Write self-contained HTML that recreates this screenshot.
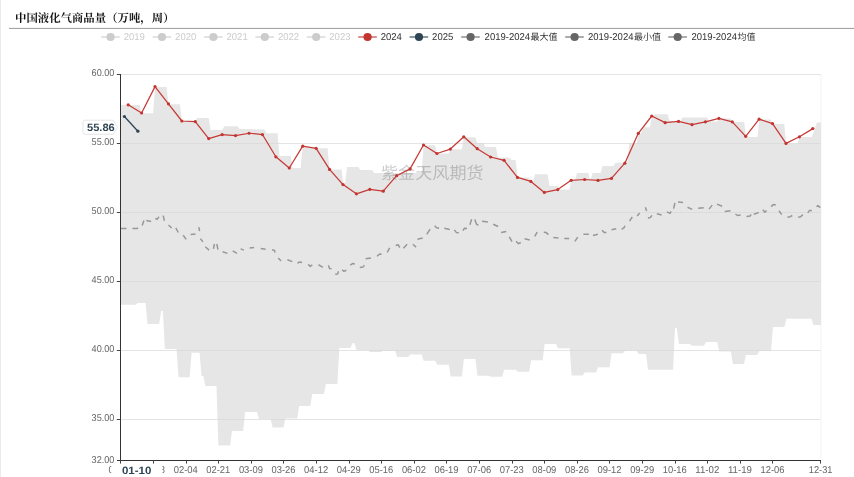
<!DOCTYPE html>
<html><head><meta charset="utf-8"><title>chart</title>
<style>html,body{margin:0;padding:0;background:#fff}svg{display:block;will-change:transform}text{font-family:"Liberation Sans",sans-serif;text-rendering:geometricPrecision}</style></head>
<body>
<svg width="854" height="477" viewBox="0 0 854 477">
<rect width="854" height="477" fill="#fff"/>
<rect x="0" y="0" width="1" height="477" fill="#ebebeb"/>
<text x="15" y="21.5" font-size="11.5" font-weight="bold" fill="#111" style="font-family:'Liberation Serif','Noto Serif CJK SC',serif" textLength="159.5" lengthAdjust="spacingAndGlyphs">中国液化气商品量（万吨，周）</text>
<rect x="9" y="27.9" width="845" height="1" fill="#9c9c9c"/>
<line x1="120.5" x2="821" y1="74.5" y2="74.5" stroke="#e4e4e4" stroke-width="1"/>
<line x1="120.5" x2="821" y1="143.5" y2="143.5" stroke="#e4e4e4" stroke-width="1"/>
<line x1="120.5" x2="821" y1="212.5" y2="212.5" stroke="#e4e4e4" stroke-width="1"/>
<line x1="120.5" x2="821" y1="281.5" y2="281.5" stroke="#e4e4e4" stroke-width="1"/>
<line x1="120.5" x2="821" y1="350.5" y2="350.5" stroke="#e4e4e4" stroke-width="1"/>
<line x1="120.5" x2="821" y1="419.5" y2="419.5" stroke="#e4e4e4" stroke-width="1"/>
<line x1="820.9" x2="820.9" y1="74" y2="460" stroke="#f3f3f3" stroke-width="1"/>
<polygon points="120.5,105 139.68,105 141.6,113.2 153.13,113.2 155.05,86.95 166.58,86.95 168.5,104.2 179.98,104.2 181.9,121 195.28,121 197.2,118 208.68,118 210.6,130 222.28,130 224.2,126.2 237.68,126.2 239.6,128.9 264.5,129.5 264.48,129.5 266.4,133.2 277.58,133.2 279.5,156.1 290.68,156.1 292.6,168.1 300.68,168.1 302.6,146.6 316.1,148.3 327.58,148.3 329.5,169.5 341.48,169.5 343.4,183.5 345.13,183.5 347.05,167.1 358.28,167.1 360.2,170 372.18,170 374.1,173.1 421.68,173.1 423.6,145.3 435.08,145.3 437,153.5 448.58,153.5 450.5,149.2 461.88,149.2 463.8,137.15 475.38,137.15 477.3,143.1 483.38,143.1 485.3,146.9 495.98,146.9 497.9,157.45 509.48,157.45 511.4,160 515.68,160 517.6,177.6 529.08,177.6 531,181.5 533.08,181.5 535,174.3 547.58,174.3 549.5,186.1 557.98,186.1 559.9,189.6 569.38,189.6 571.3,180.5 575.13,180.5 577.05,173.1 588.3,173.1 589.9,179.3 590.68,179.3 592.6,173.1 600.58,173.1 602.5,166.1 613.58,166.1 615.5,162.7 627.38,162.7 629.3,143 636.58,143 638.5,133.5 641.08,133.5 643,127.3 649.98,127.3 651.9,116 652.88,116 654.8,114.2 667.58,114.2 669.5,121.1 680.48,121.1 682.4,117.6 707.08,117.6 709,121.5 717.23,121.5 719.15,118.6 730.58,118.6 732.5,121.9 744.18,121.9 746.1,136.9 757.48,136.9 759.4,119.4 770.83,119.4 772.75,123.9 784.23,123.9 786.15,143.4 797.63,143.4 799.55,137.1 811.8,137.1 817,122.45 820.9,122.45 820.9,324.9 813.4,324.9 811.48,318.85 786.4,318.85 784.48,327.05 772.95,327.05 771.03,351.1 759.3,351.1 757.38,354.9 745.9,354.9 743.98,363.9 732.8,363.9 730.88,351.4 719.3,351.4 717.38,342.05 705.9,342.05 703.98,345.7 691.8,345.7 689.88,344.1 678.85,344.1 676.75,327.9 675,327.9 673.08,369.7 648,369.7 646.08,354.1 638.5,354.1 636.58,350.8 624.9,350.8 622.98,353.3 611.5,353.3 609.58,367.2 598,367.2 596.08,372.6 584.7,372.6 582.78,375.5 571.6,375.5 569.68,348.2 557.9,348.2 555.98,344.1 544.6,344.1 542.68,360.2 531.1,360.2 529.18,371.8 517.7,371.8 515.78,369.7 504.1,369.7 502.18,376.7 490.7,376.7 488.78,375.7 477.4,375.7 475.48,359 463.9,359 461.98,376.6 450.7,376.6 448.78,364.75 437.2,364.75 435.28,360.8 423.6,360.8 421.68,354.6 410.2,354.6 408.28,357.05 397.05,357.05 395.13,350.8 383.1,350.8 381.18,352.1 370,352.1 368.08,350 356.4,350 354.48,343.1 352.8,343.1 350.3,348 339.3,348 337.38,384.1 325.9,384.1 323.98,393.9 312.2,393.9 310.28,406.1 299.1,406.1 297.18,418.4 285.4,418.4 283.48,427.4 272.6,427.4 270.68,418.9 258.9,418.9 256.98,412.1 245.1,412.1 243.18,431.1 232,431.1 230.08,445.6 218.4,445.6 216.48,386.1 205.3,386.1 203.38,376 201.5,376 199.58,352.8 191.6,352.8 189.68,377.25 178.5,377.25 176.58,349 164.85,349 162.93,311 161.1,311 159.18,324.1 147.5,324.1 145.58,303.1 137.6,303.1 135.68,304.75 120.5,304.75" fill="#d6d6d6" fill-opacity="0.62"/>
<text x="381" y="178.5" font-size="17" fill="#000" fill-opacity="0.2" style="font-family:'Liberation Sans','Noto Sans CJK SC',sans-serif" textLength="102.6" lengthAdjust="spacingAndGlyphs">紫金天风期货</text>
<path d="M121 228.4L126.5 228.4M132.4 228.4L137.3 228.4L138 227.8M142.2 225.5L143.9 220.6M146.3 220.6L151.2 221.4M155.3 218.4L157 219.4L159 216.8M163.2 215.65L164.4 220.9M168.5 225L171.7 227.95M175.8 227.95L178.3 232.5M183.2 235.3L186.2 239.4M190.6 234.5L195.5 234M198.8 227.1L199.6 231.2M200.4 238.6L202.9 241.9M205.3 246.8L209.1 250.1M213.5 248.9L214.4 244M216.8 244L218 249.6M222.6 251.7L227.5 253.4M232.7 250.9L237 253.4M240.6 248.9L243.9 250.1M249.6 248.1L254.1 247.5M260.7 248.5L265.6 249.3M272.1 249.7L274.6 250.5L274.9 252.6M278.2 257.9L281.1 261.1M287.4 259.8L292.3 261.6M297.5 263.3L299.2 262L302.1 262.5M308.2 264.4L310.3 266.4L312.3 264.75M318.5 264.75L322.95 267.4M328.4 265.2L329.5 268.5L331.6 268.85M335.2 274.3L337.7 273.9L338.5 271.3M342.1 269.7L343.8 271.3L346.4 270.2M350.3 265.2L352.5 263.6L354.9 263.9M359.8 267.4L363.1 266.9L364.4 265.2M365.6 258.7L371 257.9M377 256.2L379.5 254.1L381.6 254.3M387.2 252.3L389.7 247.8M395.7 245.5L398.1 244.7L399.75 247.5M403.4 248.3L407.1 244.2M412.9 244.2L416.1 247.1M417.5 239.3L422.7 238.1M426.8 234.3L430.1 229.1M434.7 225.7L436.6 227.8L439.1 228.3M444.3 228.3L449.75 229.4M454.3 229.9L456.3 232.4L458.8 232.7M462.9 230.6L464.5 228.3L467 228.6M469.9 224.8L471.6 219.3M474.8 219.6L476.5 224.2L478.4 225.3M482 221.2L487.95 222M493.2 224.2L498.1 226.5M501.1 232.4L506.3 231.4M509.3 236.8L512 241.7M516.1 241.4L518.6 243.7L520.7 242.5M524.6 238.7L529.8 240M534.75 236.4L537.2 232.1M543.8 232.3L546.2 232.6L548.4 234.6M553.3 237.5L558.5 238M564.3 238.4L569.2 238.4M574.9 241.3L577.7 237.2M583.4 234.3L588.85 234.3M592.95 235.6L597.9 234.3M602 230.2L604.4 232.6L606.4 232.6M611.5 229.8L616.2 228.85M621.6 229.3L624.1 227.7L624.9 225.7M629.5 221.1L632.3 217.05M637.2 215.9L639.7 212.95M645.4 207.2L646.6 211M647.9 217.9L650.3 217.5L652 215.4M656.8 213.7L661.6 215.05M666.9 211.9L670 213.4L671.1 211.3M673.6 208.7L674.9 202.8M678 202L683.1 202.4M687.5 207.25L692.2 209.4M698.1 208.3L703.75 207.7M709 209.1L712.2 205.1M717 204.1L722.1 206.2M724.8 211.5L730.5 210.8M735.4 214L737.5 215.5L740.6 215.05M746.5 216.5L750.1 216.1L751.2 214.4M753.7 214.4L758.6 212.5M762.8 209.8L764.9 212.3L766.6 210.4M771.2 206.6L773.3 204.5L775.8 205.1M779 210.8L781.7 214.6M787.4 217.2L790.2 216.7L792.3 215.5M798.2 217.2L800.7 216.7L802.8 214.6M807.7 212.9L809.6 210.4L811.9 210.4M816.5 206.6L818 205.6L820.3 207.7" fill="none" stroke="#989898" stroke-width="1.5" stroke-linejoin="round"/>
<line x1="120.5" x2="120.5" y1="74" y2="461" stroke="#333" stroke-width="1"/>
<line x1="117" x2="821" y1="460.5" y2="460.5" stroke="#333" stroke-width="1"/>
<line x1="116.8" x2="120.5" y1="74.5" y2="74.5" stroke="#444" stroke-width="1"/>
<line x1="116.8" x2="120.5" y1="143.5" y2="143.5" stroke="#444" stroke-width="1"/>
<line x1="116.8" x2="120.5" y1="212.5" y2="212.5" stroke="#444" stroke-width="1"/>
<line x1="116.8" x2="120.5" y1="281.5" y2="281.5" stroke="#444" stroke-width="1"/>
<line x1="116.8" x2="120.5" y1="350.5" y2="350.5" stroke="#444" stroke-width="1"/>
<line x1="116.8" x2="120.5" y1="419.5" y2="419.5" stroke="#444" stroke-width="1"/>
<line x1="120.5" x2="120.5" y1="460.5" y2="463.6" stroke="#444" stroke-width="1"/>
<line x1="153.5" x2="153.5" y1="460.5" y2="463.6" stroke="#444" stroke-width="1"/>
<line x1="186.5" x2="186.5" y1="460.5" y2="463.6" stroke="#444" stroke-width="1"/>
<line x1="218.5" x2="218.5" y1="460.5" y2="463.6" stroke="#444" stroke-width="1"/>
<line x1="251.5" x2="251.5" y1="460.5" y2="463.6" stroke="#444" stroke-width="1"/>
<line x1="283.5" x2="283.5" y1="460.5" y2="463.6" stroke="#444" stroke-width="1"/>
<line x1="316.5" x2="316.5" y1="460.5" y2="463.6" stroke="#444" stroke-width="1"/>
<line x1="349.5" x2="349.5" y1="460.5" y2="463.6" stroke="#444" stroke-width="1"/>
<line x1="381.5" x2="381.5" y1="460.5" y2="463.6" stroke="#444" stroke-width="1"/>
<line x1="414.5" x2="414.5" y1="460.5" y2="463.6" stroke="#444" stroke-width="1"/>
<line x1="446.5" x2="446.5" y1="460.5" y2="463.6" stroke="#444" stroke-width="1"/>
<line x1="479.5" x2="479.5" y1="460.5" y2="463.6" stroke="#444" stroke-width="1"/>
<line x1="512.5" x2="512.5" y1="460.5" y2="463.6" stroke="#444" stroke-width="1"/>
<line x1="544.5" x2="544.5" y1="460.5" y2="463.6" stroke="#444" stroke-width="1"/>
<line x1="577.5" x2="577.5" y1="460.5" y2="463.6" stroke="#444" stroke-width="1"/>
<line x1="609.5" x2="609.5" y1="460.5" y2="463.6" stroke="#444" stroke-width="1"/>
<line x1="642.5" x2="642.5" y1="460.5" y2="463.6" stroke="#444" stroke-width="1"/>
<line x1="675.5" x2="675.5" y1="460.5" y2="463.6" stroke="#444" stroke-width="1"/>
<line x1="707.5" x2="707.5" y1="460.5" y2="463.6" stroke="#444" stroke-width="1"/>
<line x1="740.5" x2="740.5" y1="460.5" y2="463.6" stroke="#444" stroke-width="1"/>
<line x1="772.5" x2="772.5" y1="460.5" y2="463.6" stroke="#444" stroke-width="1"/>
<line x1="820.5" x2="820.5" y1="460.5" y2="463.6" stroke="#444" stroke-width="1"/>
<text x="114.4" y="76.4" font-size="9.9" fill="#666" text-anchor="end" textLength="22.8" lengthAdjust="spacingAndGlyphs">60.00</text>
<text x="114.4" y="145.4" font-size="9.9" fill="#666" text-anchor="end" textLength="22.8" lengthAdjust="spacingAndGlyphs">55.00</text>
<text x="114.4" y="214.4" font-size="9.9" fill="#666" text-anchor="end" textLength="22.8" lengthAdjust="spacingAndGlyphs">50.00</text>
<text x="114.4" y="283.4" font-size="9.9" fill="#666" text-anchor="end" textLength="22.8" lengthAdjust="spacingAndGlyphs">45.00</text>
<text x="114.4" y="352.4" font-size="9.9" fill="#666" text-anchor="end" textLength="22.8" lengthAdjust="spacingAndGlyphs">40.00</text>
<text x="114.4" y="421.4" font-size="9.9" fill="#666" text-anchor="end" textLength="22.8" lengthAdjust="spacingAndGlyphs">35.00</text>
<text x="114.4" y="462.5" font-size="9.9" fill="#666" text-anchor="end" textLength="22.8" lengthAdjust="spacingAndGlyphs">32.00</text>
<text x="108.5" y="473.1" font-size="9.9" fill="#666" textLength="24" lengthAdjust="spacingAndGlyphs">01-01</text>
<text x="141.1" y="473.1" font-size="9.9" fill="#666" textLength="24" lengthAdjust="spacingAndGlyphs">01-18</text>
<text x="173.71" y="473.1" font-size="9.9" fill="#666" textLength="24" lengthAdjust="spacingAndGlyphs">02-04</text>
<text x="206.31" y="473.1" font-size="9.9" fill="#666" textLength="24" lengthAdjust="spacingAndGlyphs">02-21</text>
<text x="238.91" y="473.1" font-size="9.9" fill="#666" textLength="24" lengthAdjust="spacingAndGlyphs">03-09</text>
<text x="271.51" y="473.1" font-size="9.9" fill="#666" textLength="24" lengthAdjust="spacingAndGlyphs">03-26</text>
<text x="304.12" y="473.1" font-size="9.9" fill="#666" textLength="24" lengthAdjust="spacingAndGlyphs">04-12</text>
<text x="336.72" y="473.1" font-size="9.9" fill="#666" textLength="24" lengthAdjust="spacingAndGlyphs">04-29</text>
<text x="369.32" y="473.1" font-size="9.9" fill="#666" textLength="24" lengthAdjust="spacingAndGlyphs">05-16</text>
<text x="401.92" y="473.1" font-size="9.9" fill="#666" textLength="24" lengthAdjust="spacingAndGlyphs">06-02</text>
<text x="434.53" y="473.1" font-size="9.9" fill="#666" textLength="24" lengthAdjust="spacingAndGlyphs">06-19</text>
<text x="467.13" y="473.1" font-size="9.9" fill="#666" textLength="24" lengthAdjust="spacingAndGlyphs">07-06</text>
<text x="499.73" y="473.1" font-size="9.9" fill="#666" textLength="24" lengthAdjust="spacingAndGlyphs">07-23</text>
<text x="532.34" y="473.1" font-size="9.9" fill="#666" textLength="24" lengthAdjust="spacingAndGlyphs">08-09</text>
<text x="564.94" y="473.1" font-size="9.9" fill="#666" textLength="24" lengthAdjust="spacingAndGlyphs">08-26</text>
<text x="597.54" y="473.1" font-size="9.9" fill="#666" textLength="24" lengthAdjust="spacingAndGlyphs">09-12</text>
<text x="630.14" y="473.1" font-size="9.9" fill="#666" textLength="24" lengthAdjust="spacingAndGlyphs">09-29</text>
<text x="662.75" y="473.1" font-size="9.9" fill="#666" textLength="24" lengthAdjust="spacingAndGlyphs">10-16</text>
<text x="695.35" y="473.1" font-size="9.9" fill="#666" textLength="24" lengthAdjust="spacingAndGlyphs">11-02</text>
<text x="727.95" y="473.1" font-size="9.9" fill="#666" textLength="24" lengthAdjust="spacingAndGlyphs">11-19</text>
<text x="760.55" y="473.1" font-size="9.9" fill="#666" textLength="24" lengthAdjust="spacingAndGlyphs">12-06</text>
<text x="808.8" y="473.1" font-size="9.9" fill="#666" textLength="23.6" lengthAdjust="spacingAndGlyphs">12-31</text>
<rect x="111.2" y="464.5" width="51.2" height="12.5" fill="#fff"/>
<text x="121.9" y="474" font-size="10.6" font-weight="bold" fill="#2f4554" textLength="29.4" lengthAdjust="spacingAndGlyphs">01-10</text>
<polyline points="124.4,116.5 137.9,131.2" fill="none" stroke="#2f4554" stroke-width="1.3"/>
<circle cx="124.4" cy="116.5" r="1.6" fill="#2f4554"/>
<circle cx="137.9" cy="131.2" r="1.6" fill="#2f4554"/>
<polyline points="128.17,104.8 141.6,113 155.02,86.6 168.45,103.8 181.87,121 195.29,121.6 208.72,138.6 222.14,134.55 235.57,135.6 248.99,133.25 262.42,134.55 275.84,156.8 289.27,168 302.69,146.2 316.12,148.3 329.54,169.4 342.97,184.6 356.39,193.85 369.82,189.3 383.24,191.2 396.66,175.7 410.09,168.9 423.51,145 436.94,153.5 450.36,149.05 463.79,136.8 477.21,148.7 490.64,157 504.06,160.35 517.49,177.45 530.91,181.45 544.34,192.45 557.76,189.6 571.18,180.3 584.61,179.5 598.03,180.45 611.46,178.4 624.88,163.2 638.31,133.35 651.73,116 665.16,122.65 678.58,121.4 692.01,124.7 705.43,121.8 718.86,118.3 732.28,121.8 745.71,136.35 759.13,119.15 772.55,123.6 785.98,143.4 799.4,136.8 812.83,128.6" fill="none" stroke="#c53a36" stroke-width="1.25" stroke-linejoin="round"/>
<g fill="#c23531"><circle cx="128.17" cy="104.8" r="1.6"/><circle cx="141.6" cy="113" r="1.6"/><circle cx="155.02" cy="86.6" r="1.6"/><circle cx="168.45" cy="103.8" r="1.6"/><circle cx="181.87" cy="121" r="1.6"/><circle cx="195.29" cy="121.6" r="1.6"/><circle cx="208.72" cy="138.6" r="1.6"/><circle cx="222.14" cy="134.55" r="1.6"/><circle cx="235.57" cy="135.6" r="1.6"/><circle cx="248.99" cy="133.25" r="1.6"/><circle cx="262.42" cy="134.55" r="1.6"/><circle cx="275.84" cy="156.8" r="1.6"/><circle cx="289.27" cy="168" r="1.6"/><circle cx="302.69" cy="146.2" r="1.6"/><circle cx="316.12" cy="148.3" r="1.6"/><circle cx="329.54" cy="169.4" r="1.6"/><circle cx="342.97" cy="184.6" r="1.6"/><circle cx="356.39" cy="193.85" r="1.6"/><circle cx="369.82" cy="189.3" r="1.6"/><circle cx="383.24" cy="191.2" r="1.6"/><circle cx="396.66" cy="175.7" r="1.6"/><circle cx="410.09" cy="168.9" r="1.6"/><circle cx="423.51" cy="145" r="1.6"/><circle cx="436.94" cy="153.5" r="1.6"/><circle cx="450.36" cy="149.05" r="1.6"/><circle cx="463.79" cy="136.8" r="1.6"/><circle cx="477.21" cy="148.7" r="1.6"/><circle cx="490.64" cy="157" r="1.6"/><circle cx="504.06" cy="160.35" r="1.6"/><circle cx="517.49" cy="177.45" r="1.6"/><circle cx="530.91" cy="181.45" r="1.6"/><circle cx="544.34" cy="192.45" r="1.6"/><circle cx="557.76" cy="189.6" r="1.6"/><circle cx="571.18" cy="180.3" r="1.6"/><circle cx="584.61" cy="179.5" r="1.6"/><circle cx="598.03" cy="180.45" r="1.6"/><circle cx="611.46" cy="178.4" r="1.6"/><circle cx="624.88" cy="163.2" r="1.6"/><circle cx="638.31" cy="133.35" r="1.6"/><circle cx="651.73" cy="116" r="1.6"/><circle cx="665.16" cy="122.65" r="1.6"/><circle cx="678.58" cy="121.4" r="1.6"/><circle cx="692.01" cy="124.7" r="1.6"/><circle cx="705.43" cy="121.8" r="1.6"/><circle cx="718.86" cy="118.3" r="1.6"/><circle cx="732.28" cy="121.8" r="1.6"/><circle cx="745.71" cy="136.35" r="1.6"/><circle cx="759.13" cy="119.15" r="1.6"/><circle cx="772.55" cy="123.6" r="1.6"/><circle cx="785.98" cy="143.4" r="1.6"/><circle cx="799.4" cy="136.8" r="1.6"/><circle cx="812.83" cy="128.6" r="1.6"/></g>
<path d="M85 120.2H113.2L117.6 127.2L113.2 134.3H85Q83 134.3 83 132.3V122.2Q83 120.2 85 120.2Z" fill="#fff" stroke="#dedede" stroke-width="0.8"/>
<text x="87" y="130.7" font-size="10.6" font-weight="bold" fill="#2f4554" textLength="27.8" lengthAdjust="spacingAndGlyphs">55.86</text>
<line x1="101.2" x2="119.8" y1="37" y2="37" stroke="#ccc" stroke-width="1.1"/><circle cx="110.6" cy="37" r="4.1" fill="#ccc"/>
<text x="123.7" y="40.4" font-size="9.9" fill="#ccc" textLength="21.2" lengthAdjust="spacingAndGlyphs">2019</text>
<line x1="152.6" x2="171.2" y1="37" y2="37" stroke="#ccc" stroke-width="1.1"/><circle cx="162" cy="37" r="4.1" fill="#ccc"/>
<text x="175.1" y="40.4" font-size="9.9" fill="#ccc" textLength="21.2" lengthAdjust="spacingAndGlyphs">2020</text>
<line x1="204" x2="222.6" y1="37" y2="37" stroke="#ccc" stroke-width="1.1"/><circle cx="213.4" cy="37" r="4.1" fill="#ccc"/>
<text x="226.5" y="40.4" font-size="9.9" fill="#ccc" textLength="21.2" lengthAdjust="spacingAndGlyphs">2021</text>
<line x1="255.4" x2="274" y1="37" y2="37" stroke="#ccc" stroke-width="1.1"/><circle cx="264.8" cy="37" r="4.1" fill="#ccc"/>
<text x="277.9" y="40.4" font-size="9.9" fill="#ccc" textLength="21.2" lengthAdjust="spacingAndGlyphs">2022</text>
<line x1="306.8" x2="325.4" y1="37" y2="37" stroke="#ccc" stroke-width="1.1"/><circle cx="316.2" cy="37" r="4.1" fill="#ccc"/>
<text x="329.3" y="40.4" font-size="9.9" fill="#ccc" textLength="21.2" lengthAdjust="spacingAndGlyphs">2023</text>
<line x1="358.2" x2="376.8" y1="37" y2="37" stroke="#c23531" stroke-width="1.1"/><circle cx="367.6" cy="37" r="4.1" fill="#c23531"/>
<text x="380.7" y="40.4" font-size="9.9" fill="#333" textLength="21.2" lengthAdjust="spacingAndGlyphs">2024</text>
<line x1="409.6" x2="428.2" y1="37" y2="37" stroke="#2f4554" stroke-width="1.1"/><circle cx="419" cy="37" r="4.1" fill="#2f4554"/>
<text x="432.1" y="40.4" font-size="9.9" fill="#333" textLength="21.2" lengthAdjust="spacingAndGlyphs">2025</text>
<line x1="461.2" x2="479.8" y1="37" y2="37" stroke="#666" stroke-width="1.1"/><circle cx="470.6" cy="37" r="4.1" fill="#666"/>
<text x="484.6" y="40.4" font-size="9.9" fill="#333" textLength="45.5" lengthAdjust="spacingAndGlyphs">2019-2024</text>
<text x="530.5" y="39.8" font-size="9" fill="#333" style="font-family:'Liberation Sans','Noto Sans CJK SC',sans-serif" textLength="27" lengthAdjust="spacingAndGlyphs">最大值</text>
<line x1="565.2" x2="583.8" y1="37" y2="37" stroke="#666" stroke-width="1.1"/><circle cx="574.6" cy="37" r="4.1" fill="#666"/>
<text x="588" y="40.4" font-size="9.9" fill="#333" textLength="45.5" lengthAdjust="spacingAndGlyphs">2019-2024</text>
<text x="633.9" y="39.8" font-size="9" fill="#333" style="font-family:'Liberation Sans','Noto Sans CJK SC',sans-serif" textLength="27" lengthAdjust="spacingAndGlyphs">最小值</text>
<line x1="668.3" x2="686.9" y1="37" y2="37" stroke="#666" stroke-width="1.1"/><circle cx="677.7" cy="37" r="4.1" fill="#666"/>
<text x="691.5" y="40.4" font-size="9.9" fill="#333" textLength="45.5" lengthAdjust="spacingAndGlyphs">2019-2024</text>
<text x="737.4" y="39.8" font-size="9" fill="#333" style="font-family:'Liberation Sans','Noto Sans CJK SC',sans-serif" textLength="18" lengthAdjust="spacingAndGlyphs">均值</text>
</svg>
</body></html>
